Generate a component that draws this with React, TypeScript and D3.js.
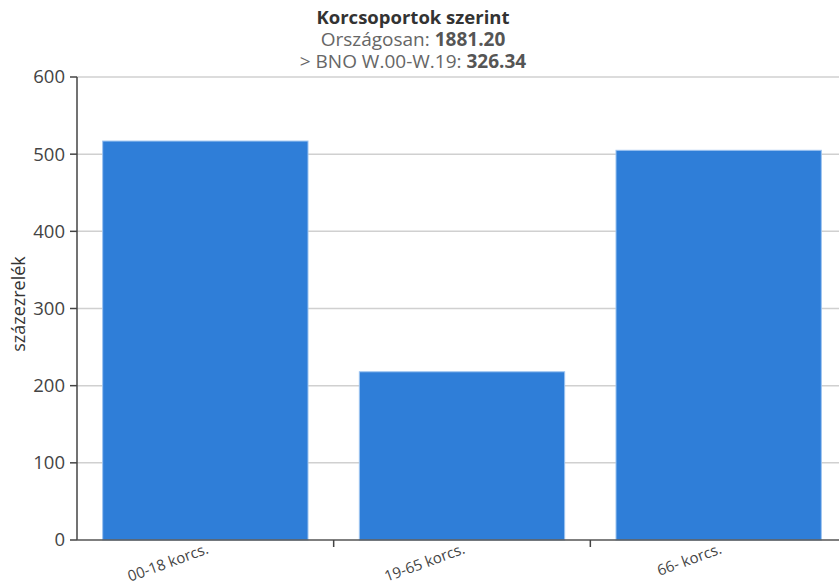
import React from "react";
import * as d3 from "d3";

const categories = ["00-18 korcs.", "19-65 korcs.", "66- korcs."];
const values = [517, 218, 505];
const yTicks = [0, 100, 200, 300, 400, 500, 600];
const titleText = "Korcsoportok szerint";
const nationalLabel = "Országosan: ";
const nationalValue = "1881.20";
const bnoLabel = "> BNO W.00-W.19: ";
const bnoValue = "326.34";
const yAxisTitle = "százezrelék";

const W = 839;
const H = 588;
const margin = { left: 77, top: 77, bottom: 48 };
const plotRight = 847;
const FONT = "'Open Sans', 'Noto Sans', sans-serif";

export default function App() {
  const y = d3.scaleLinear().domain([0, 600]).range([H - margin.bottom, margin.top]);
  const x = d3
    .scaleBand<string>()
    .domain(categories)
    .range([margin.left, plotRight])
    .paddingInner(0.2)
    .paddingOuter(0.1);
  const step = x.step();
  const base = y(0);
  const tickBounds = categories.slice(1).map((c) => (x(c) as number) - step * 0.1);

  return (
    <div style={{ position: "absolute", left: 0, top: 0 }}>
      <svg width={W} height={H} style={{ display: "block", fontFamily: FONT }}>
        <rect width={W} height={H} fill="#fff" />
        {/* grid lines */}
        {yTicks.map((t) =>
          t === 0 ? null : (
            <line key={"g" + t} x1={margin.left} x2={W} y1={y(t)} y2={y(t)} stroke="#d0d0d0" strokeWidth={1.5} />
          )
        )}
        {/* bars */}
        {categories.map((c, i) => (
          <rect
            key={c}
            x={x(c)}
            y={y(values[i])}
            width={x.bandwidth()}
            height={base - y(values[i])}
            fill="#2f7ed8"
            stroke="#9cc3f0"
            strokeWidth={1}
          />
        ))}
        {/* y axis */}
        <line x1={margin.left} x2={margin.left} y1={margin.top} y2={base} stroke="#444" strokeWidth={1.5} />
        {yTicks.map((t) => (
          <g key={"t" + t}>
            <line x1={margin.left - 7} x2={margin.left} y1={y(t)} y2={y(t)} stroke="#444" strokeWidth={1.5} />
            <text x={margin.left - 12} y={y(t)} dy="0.35em" textAnchor="end" fontSize={18.5} fill="#444">
              {t}
            </text>
          </g>
        ))}
        <text
          transform={`translate(25,304) rotate(-90)`}
          textAnchor="middle"
          fontSize={18}
          fill="#333"
        >
          {yAxisTitle}
        </text>
        {/* x axis */}
        <line x1={margin.left} x2={W} y1={base} y2={base} stroke="#555" strokeWidth={1.5} />
        {tickBounds.map((tx, i) => (
          <line key={"xt" + i} x1={tx} x2={tx} y1={base} y2={base + 7} stroke="#444" strokeWidth={1.5} />
        ))}
        {categories.map((c) => {
          const cx = (x(c) as number) + x.bandwidth() / 2;
          return (
            <text
              key={"l" + c}
              transform={`translate(${cx + 4},${base + 13}) rotate(-20)`}
              textAnchor="end"
              fontSize={15}
              fill="#444"
            >
              {c}
            </text>
          );
        })}
        {/* title */}
        <text x={413} y={24} textAnchor="middle" fontSize={18.5} fontWeight="bold" fill="#333">
          {titleText}
        </text>
        <text x={413} y={46} textAnchor="middle" fontSize={19} fill="#666">
          {nationalLabel}
          <tspan fontWeight="bold" fill="#555">{nationalValue}</tspan>
        </text>
        <text x={413} y={68} textAnchor="middle" fontSize={19} fill="#666">
          {bnoLabel}
          <tspan fontWeight="bold" fill="#555">{bnoValue}</tspan>
        </text>
      </svg>
    </div>
  );
}
